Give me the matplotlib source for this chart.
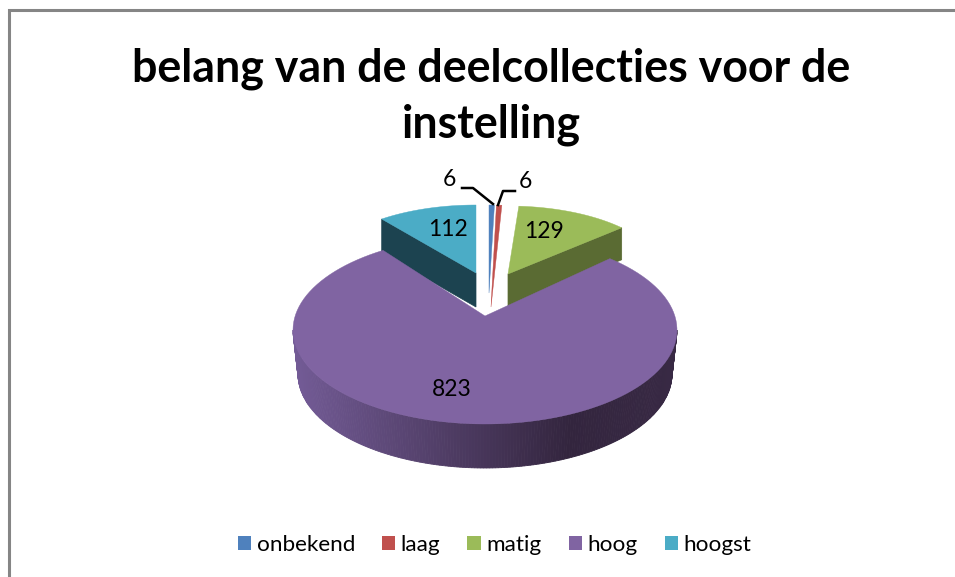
import numpy as np
import matplotlib
matplotlib.use("Agg")
import matplotlib.pyplot as plt
from matplotlib.patches import Polygon, Patch

# data
categories = ["onbekend", "laag", "matig", "hoog", "hoogst"]
values = [6, 6, 129, 823, 112]
title = "belang van de deelcollecties voor de\ninstelling"

colors = ["#4f81bd", "#c0504d", "#9bbb59", "#8064a2", "#4bacc6"]
side_colors = ["#3a5f8c", "#8e3b39", "#5a6b33", "#35263f", "#1c4350"]

# per slice look of the fake 3d pie: tip x, tip y, rx, ry, arc centre y, depth,
# and how many degrees the perspective moves the two cut edges
geom = [
    (489, 293, 155, 88, 293, 0, 0, 0),
    (491, 307, 155, 102, 307, 0, 0, 0),
    (508, 274, 155, 68, 274, 32, 0, 0),
    (485, 316, 192, 94, 330, 44, -6.6, 5.4),
    (476, 273, 155, 68, 273, 34, 0, 0),
]
draw_order = [4, 2, 0, 1, 3]

W, H = 955, 577
plt.rcParams['font.family'] = ['Lato', 'DejaVu Sans']
fig = plt.figure(figsize=(W/100, H/100), dpi=100)
ax = fig.add_axes([0, 0, 1, 1])
ax.set_xlim(0, W)
ax.set_ylim(H, 0)
ax.axis("off")

# chart frame
ax.plot([8.5, 8.5, W], [H, 10, 10], color="#858585", lw=2.2, solid_joinstyle="miter")

# slice angles, clockwise from the top
total = sum(values)
edges = np.concatenate([[0], np.cumsum(values)]) / total * 2*np.pi

def arc(i, a, b, n=120):
    tx, ty, rx, ry, cy = geom[i][:5]
    t = np.linspace(a, b, n)
    return np.column_stack([tx + rx*np.sin(t), cy - ry*np.cos(t)])

for i in draw_order:
    tx, ty, rx, ry, cy, d, da, db = geom[i]
    a, b = edges[i] + np.radians(da), edges[i+1] + np.radians(db)
    if i == 3:
        # rim of the big slice, shaded strip by strip
        t = np.linspace(np.pi/2, 3*np.pi/2, 200)
        light = np.array([0x73, 0x5b, 0x96]) / 255
        dark = np.array([0x33, 0x25, 0x3e]) / 255
        for k in range(len(t)-1):
            x0 = np.sin(t[k])
            # darkest a bit right of the middle, lighter to the far left
            f = np.clip((0.45 - x0) / 1.45, 0, 1)
            c = dark + (light - dark) * f
            if x0 > 0.45:
                c = dark + (np.array([0x38, 0x29, 0x44])/255 - dark) * (x0-0.45)/0.55
            pts = [(tx + rx*np.sin(t[k]), cy - ry*np.cos(t[k])),
                   (tx + rx*np.sin(t[k+1]), cy - ry*np.cos(t[k+1])),
                   (tx + (rx-5)*np.sin(t[k+1]), cy + d - ry*np.cos(t[k+1])),
                   (tx + (rx-5)*np.sin(t[k]), cy + d - ry*np.cos(t[k]))]
            ax.add_patch(Polygon(pts, closed=True, fc=c, ec=c, lw=0.6, zorder=3))
    elif d > 0:
        # cut face towards the viewer
        edge = b if i == 2 else a
        p = arc(i, edge, edge, 1)[0]
        pts = [(tx, ty), p, (p[0], p[1]+d), (tx, ty+d)]
        ax.add_patch(Polygon(pts, closed=True, fc=side_colors[i], ec=side_colors[i], lw=0.5, zorder=1))
    top = np.vstack([[(tx, ty)], arc(i, a, b)])
    z = 4 if i == 3 else 2
    ax.add_patch(Polygon(top, closed=True, fc=colors[i], ec=colors[i], lw=0.3, zorder=z))

# value labels
label_pos = [(449, 180), (525, 182), (544, 232), (452, 389), (448, 230)]
for v, (x, y) in zip(values, label_pos):
    ax.text(x, y, str(v), ha="center", va="center", fontsize=16.5, color="black", zorder=6)

# leader lines of the two small slices
ax.plot([462, 473, 493], [188, 188, 204], color="black", lw=1.8, zorder=6)
ax.plot([515, 503, 498], [191, 191, 205], color="black", lw=1.8, zorder=6)

ax.text(491, 97, title, ha="center", va="center", fontsize=32.2, fontweight="bold",
        color="black", linespacing=1.39)

handles = [Patch(fc=c, ec="none", label=n) for c, n in zip(colors, categories)]
ax.legend(handles=handles, ncol=5, loc="center", bbox_to_anchor=(494.5/W, 1-545/H),
          frameon=False, fontsize=16.2, handlelength=0.6, handleheight=0.6,
          handletextpad=0.24, columnspacing=1.2, borderpad=0)

fig.savefig("out.png", dpi=100)
